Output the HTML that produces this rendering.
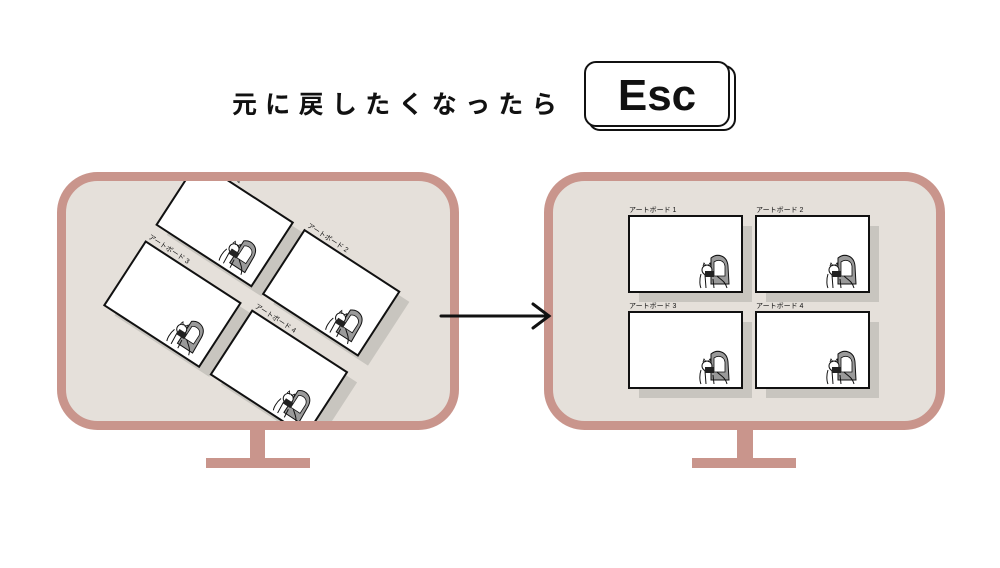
<!DOCTYPE html>
<html><head><meta charset="utf-8"><style>
body{margin:0;background:#fff;width:1000px;height:563px;overflow:hidden}
</style></head><body>
<svg width="1000" height="563" viewBox="0 0 1000 563" xmlns="http://www.w3.org/2000/svg">
<defs>
<g id="girl">
  <path d="M14 4 C20 -1 30 1 31 12 L32 30 L14 30 Z" fill="#9a9a9a" stroke="#111" stroke-width="1"/>
  <path d="M17 8 C21 5 27 6 28 12 L28 22 L17 22 Z" fill="#fff" stroke="#111" stroke-width="0.8"/>
  <circle cx="10" cy="16" r="5" fill="#fff" stroke="#111" stroke-width="1"/>
  <path d="M6 12 L7 9 L9 12 M11 12 L13 9 L14 12" fill="none" stroke="#111" stroke-width="0.8"/>
  <path d="M4 20 C2 26 3 32 4 34 M8 21 L9 34 M20 22 C24 26 28 27 30 34 M16 25 L17 34" fill="none" stroke="#111" stroke-width="1"/>
  <rect x="8" y="17" width="9" height="6" fill="#222"/>
</g>
<g id="board">
  <rect x="0" y="0" width="113" height="76" fill="#fff" stroke="#111" stroke-width="2"/>
  <use href="#girl" x="68" y="38"/>
</g>
<g id="ab">
  <rect x="10" y="10" width="113" height="76" fill="#c8c5bf"/>
  <use href="#board"/>
</g>
<g id="abr">
  <rect x="14" y="3" width="113" height="76" fill="#c8c5bf"/>
  <use href="#board"/>
</g>
<g id="labels" font-size="7" font-family="Liberation Sans, Noto Sans CJK JP, sans-serif" fill="#111">
  <text x="0" y="-4">アートボード 1</text>
  <text x="127" y="-4">アートボード 2</text>
  <text x="0" y="92">アートボード 3</text>
  <text x="127" y="92">アートボード 4</text>
</g>
<clipPath id="lc"><rect x="66" y="181" width="384" height="240" rx="32"/></clipPath>
</defs>

<text x="232" y="113" font-size="25" font-weight="bold" letter-spacing="8.3" font-family="Liberation Sans, Noto Sans CJK JP, sans-serif" fill="#111">元に戻したくなったら</text>
<rect x="589" y="66" width="146" height="64" rx="11" fill="#fff" stroke="#111" stroke-width="2"/>
<rect x="585" y="62" width="144" height="64" rx="11" fill="#fff" stroke="#111" stroke-width="2"/>
<text x="657" y="110" text-anchor="middle" font-size="44" font-weight="bold" font-family="Liberation Sans, sans-serif" fill="#111">Esc</text>

<!-- left monitor -->
<rect x="250" y="425" width="15" height="36" fill="#c9958c"/>
<rect x="206" y="458" width="104" height="10" fill="#c9958c"/>
<rect x="61.5" y="176.5" width="393" height="249" rx="36" fill="#e5e0da" stroke="#c9958c" stroke-width="9"/>
<g clip-path="url(#lc)">
  <g transform="translate(198 161) rotate(33)">
    <use href="#labels"/>
    <use href="#abr" x="0" y="0"/>
    <use href="#abr" x="127" y="0"/>
    <use href="#abr" x="0" y="96"/>
    <use href="#abr" x="127" y="96"/>
  </g>
</g>

<!-- right monitor -->
<rect x="737" y="425" width="16" height="36" fill="#c9958c"/>
<rect x="692" y="458" width="104" height="10" fill="#c9958c"/>
<rect x="548.5" y="176.5" width="392" height="249" rx="36" fill="#e5e0da" stroke="#c9958c" stroke-width="9"/>
<g transform="translate(629 216)">
  <use href="#labels"/>
  <use href="#ab" x="0" y="0"/>
  <use href="#ab" x="127" y="0"/>
  <use href="#ab" x="0" y="96"/>
  <use href="#ab" x="127" y="96"/>
</g>

<!-- arrow -->
<line x1="441" y1="316" x2="549" y2="316" stroke="#111" stroke-width="3" stroke-linecap="round"/>
<polyline points="533,304 549,316 533,328" fill="none" stroke="#111" stroke-width="3" stroke-linecap="round"/>
</svg>
</body></html>
